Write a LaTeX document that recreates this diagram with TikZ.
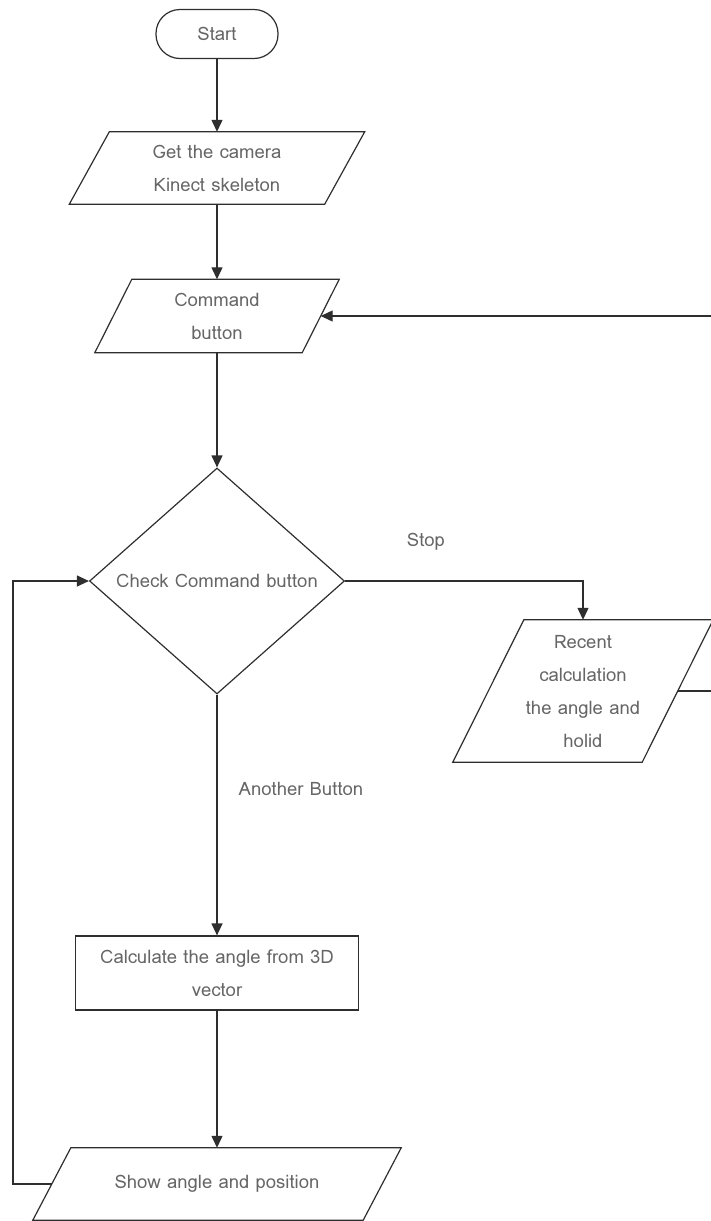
\documentclass[tikz,border=0pt]{standalone}
\usepackage{fontspec}
\setmainfont{Loma}
\usetikzlibrary{arrows.meta,shapes.geometric}
\definecolor{edgegray}{HTML}{2E2E2E}
\definecolor{txtgray}{HTML}{666666}

\begin{document}
\begin{tikzpicture}[
    x=1pt, y=-1pt,
    >={Triangle[length=12pt,width=11pt]},
    every node/.style = {inner sep=2pt, text=txtgray,
                         font=\fontsize{18.5}{33}\selectfont},
    term/.style  = {rectangle, rounded corners=24pt, draw=edgegray,
                    line width=1.2pt, minimum width=122pt, minimum height=49pt},
    io/.style    = {rectangle, align=center},
    proc/.style  = {rectangle, draw=edgegray, line width=1.2pt, align=center,
                    minimum width=283pt, minimum height=74pt},
    dec/.style   = {diamond, draw=edgegray, line width=1.2pt,
                    minimum width=255pt, minimum height=226pt},
    slant/.style = {draw=edgegray, line width=1.2pt},
    lbl/.style   = {inner sep=0pt},
    flow/.style  = {->, draw=edgegray, line width=1.2pt},
  ]
  \useasboundingbox (0,0) rectangle (710,1221);
  % flow steps
  \node[term] (start) at (217,34) {Start};
  \node[io, minimum width=255pt, minimum height=72pt] (cam) at (217,168)
    {Get the camera\\Kinect skeleton};
  \node[io, minimum width=207pt, minimum height=73pt] (cmd) at (217,316)
    {Command\\button};
  \node[dec] (check) at (217,581) {Check Command button};
  \node[io, minimum width=189pt, minimum height=142pt] (recent) at (583,691)
    {Recent\\calculation\\the angle and\\holid};
  \node[proc] (calc) at (217,973) {Calculate the angle from 3D\\vector};
  \node[io, minimum width=330pt, minimum height=72pt] (show) at (217,1184)
    {Show angle and position};
  % input/output boxes as parallelograms round their nodes
  \foreach \n/\d in {cam/20, cmd/18.5, recent/35.5, show/19}
    \draw[slant] ([xshift=\d pt]\n.north west) -- ([xshift=\d pt]\n.north east)
      -- ([xshift=-\d pt]\n.south east) -- ([xshift=-\d pt]\n.south west) -- cycle;
  % bends outside the main column
  \coordinate (rbend) at (724,691);
  \coordinate (lbend) at (13,1184);
  % edges
  \foreach \a/\b in {start/cam, cam/cmd, cmd/check, check/calc, calc/show}
    \draw[flow] (\a) -- (\b);
  \draw[flow] (check.east) -| (recent.north);
  \draw[flow] (recent.east) -- (rbend) |- (cmd.east);
  \draw[flow] (show.west) -- (lbend) |- (check.west);
  % branch labels
  \node[lbl] (stoplbl)  at (426,542) {Stop};
  \node[lbl] (otherlbl) at (301,789) {Another Button};
\end{tikzpicture}
\end{document}
